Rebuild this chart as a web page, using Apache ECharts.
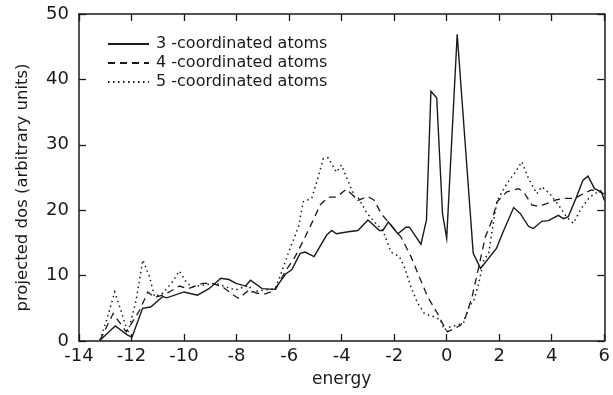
<!DOCTYPE html>
<html><head><meta charset="utf-8">
<script src="https://cdn.jsdelivr.net/npm/echarts@6/dist/echarts.min.js"></script>
<style>html,body{margin:0;padding:0;background:#fff}#c{width:613px;height:395px}</style>
</head><body><div id="c"></div>
<script>
var seriesNames = ['3 -coordinated atoms', '4 -coordinated atoms', '5 -coordinated atoms'];
var xTicks = [-14, -12, -10, -8, -6, -4, -2, 0, 2, 4, 6];
var yTicks = [0, 10, 20, 30, 40, 50];

var x3 = [-13.2,-12.62,-12.15,-11.98,-11.58,-11.27,-10.81,-10.66,-10.0,-9.49,-9.05,-8.6,-8.29,-8.02,-7.66,-7.47,-7.03,-6.55,-6.12,-5.9,-5.58,-5.39,-5.05,-4.57,-4.38,-4.2,-3.75,-3.38,-3.0,-2.56,-2.43,-2.22,-1.86,-1.55,-1.42,-0.98,-0.77,-0.6,-0.38,-0.16,0.0,0.4,1.01,1.29,1.9,2.17,2.55,2.8,3.12,3.3,3.62,3.87,4.25,4.44,4.63,4.94,5.19,5.38,5.63,5.89,6.0];
var y3 = [0.1,2.3,0.9,0.6,5.0,5.2,6.8,6.6,7.5,7.0,8.0,9.6,9.4,8.8,8.4,9.3,8.0,7.9,10.3,10.9,13.4,13.6,12.9,16.2,16.9,16.4,16.7,16.9,18.5,16.9,16.9,18.2,16.4,17.4,17.4,14.8,18.5,38.2,37.2,19.5,15.7,46.9,13.4,11.1,14.2,16.9,20.4,19.5,17.5,17.2,18.3,18.4,19.2,18.7,19.0,22.0,24.6,25.2,23.3,22.8,21.5];

var x4 = [-13.2,-12.7,-12.2,-11.69,-11.38,-11.13,-10.81,-10.56,-10.18,-9.85,-9.3,-8.92,-8.54,-8.04,-7.9,-7.53,-7.22,-6.9,-6.53,-6.15,-5.77,-5.39,-5.08,-4.82,-4.51,-4.2,-3.82,-3.5,-3.38,-3.0,-2.75,-2.5,-2.12,-1.74,-1.36,-1.04,-0.73,-0.35,-0.16,0.03,0.28,0.53,0.72,0.97,1.22,1.47,1.73,1.92,2.29,2.74,2.93,3.24,3.49,3.81,4.19,4.5,4.88,5.19,5.51,5.82,6.0];
var y4 = [0.1,4.2,1.4,4.7,7.5,6.7,7.0,7.5,8.4,8.0,8.8,8.8,8.3,6.8,6.5,7.8,7.3,7.2,7.8,10.6,12.9,15.9,18.5,20.8,22.0,22.0,23.2,22.0,21.5,22.1,21.5,19.5,17.7,15.9,12.9,9.8,6.8,4.2,2.7,1.4,1.9,2.4,3.7,6.8,11.3,15.9,18.5,21.3,22.8,23.3,22.8,20.8,20.6,21.0,21.6,21.8,21.8,22.5,23.1,22.8,22.5];

var x5 = [-13.2,-12.95,-12.64,-12.39,-12.14,-11.82,-11.57,-11.31,-11.13,-10.81,-10.43,-10.18,-9.9,-9.68,-9.17,-8.8,-8.42,-8.04,-7.91,-7.53,-7.41,-6.9,-6.53,-6.28,-5.98,-5.64,-5.46,-5.14,-4.89,-4.7,-4.51,-4.2,-4.01,-3.75,-3.5,-3.38,-3.06,-2.75,-2.43,-2.12,-1.8,-1.61,-1.36,-1.11,-0.85,-0.48,-0.23,-0.1,0.15,0.4,0.66,0.85,1.04,1.22,1.41,1.6,1.79,1.92,2.29,2.61,2.86,3.12,3.43,3.62,3.93,4.31,4.56,4.82,5.13,5.44,5.76,5.95];
var y5 = [0.1,3.2,7.5,4.5,1.2,6.3,12.4,9.8,6.8,7.3,9.1,10.7,8.9,8.3,8.6,8.8,8.3,7.8,8.0,8.5,7.5,7.8,8.0,10.6,14.0,17.5,21.3,21.8,25.1,27.9,28.0,25.8,26.9,24.4,22.0,22.0,19.7,18.2,16.9,13.6,12.9,11.3,8.3,5.8,4.2,3.7,3.2,1.7,2.2,2.4,2.9,5.2,6.3,8.8,12.4,13.4,18.5,21.4,24.1,25.8,27.4,24.8,22.5,23.6,22.5,20.5,19.0,18.0,20.3,22.0,22.8,23.1];

function pairs(xs, ys) { return xs.map(function (x, i) { return [x, ys[i]]; }); }

var INK = '#1a1a1a';
var FONT = 'DejaVu Sans';
var chart = echarts.init(document.getElementById('c'), null, { renderer: 'canvas' });

function lineSeries(name, xs, ys, type, width) {
  return {
    name: name, type: 'line', data: pairs(xs, ys), symbol: 'none', showSymbol: false,
    xAxisIndex: 0, yAxisIndex: 0, animation: false,
    lineStyle: { color: INK, width: width, type: type, cap: 'butt', join: 'miter' },
    itemStyle: { color: INK }
  };
}

function frameAxis(extra) {
  var base = {
    axisLine: { show: true, onZero: false, lineStyle: { color: INK, width: 1.5 } },
    axisTick: { show: true, inside: true, length: 7, lineStyle: { color: INK, width: 1.3 } },
    splitLine: { show: false }
  };
  for (var k in extra) base[k] = extra[k];
  return base;
}

chart.setOption({
  backgroundColor: '#fff',
  animation: false,
  grid: { left: 79, right: 5, top: 14, bottom: 54 },
  legend: {
    orient: 'vertical', left: 102, top: 31, itemGap: 3, itemWidth: 41, itemHeight: 14,
    data: seriesNames,
    itemStyle: { opacity: 0 },
    textStyle: { fontFamily: FONT, fontSize: 16, color: INK, padding: [0, 0, 0, 2] }
  },
  xAxis: [frameAxis({
    type: 'value', min: -14, max: 6, interval: 2, position: 'bottom',
    axisLabel: { color: INK, fontFamily: FONT, fontSize: 18, margin: 6,
      formatter: function (v) { return xTicks.indexOf(v) >= 0 ? String(v) : ''; } },
    name: 'energy', nameLocation: 'middle', nameGap: 30,
    nameTextStyle: { fontFamily: FONT, fontSize: 17, color: INK }
  }), frameAxis({
    type: 'value', min: -14, max: 6, interval: 2, position: 'top',
    axisLabel: { show: false }
  })],
  yAxis: [frameAxis({
    type: 'value', min: 0, max: 50, interval: 10, position: 'left',
    axisLabel: { color: INK, fontFamily: FONT, fontSize: 18, margin: 10,
      formatter: function (v) { return yTicks.indexOf(v) >= 0 ? String(v) : ''; } },
    name: 'projected dos (arbitrary units)', nameLocation: 'middle', nameGap: 48, nameRotate: 90,
    nameTextStyle: { fontFamily: FONT, fontSize: 16.5, color: INK, padding: [0, 20, 0, 0] }
  }), frameAxis({
    type: 'value', min: 0, max: 50, interval: 10, position: 'right',
    axisLabel: { show: false }
  })],
  series: [
    lineSeries(seriesNames[0], x3, y3, 'solid', 1.4),
    lineSeries(seriesNames[1], x4, y4, [7, 5], 1.3),
    lineSeries(seriesNames[2], x5, y5, [1.5, 3.5], 1.5)
  ]
});
</script></body></html>
